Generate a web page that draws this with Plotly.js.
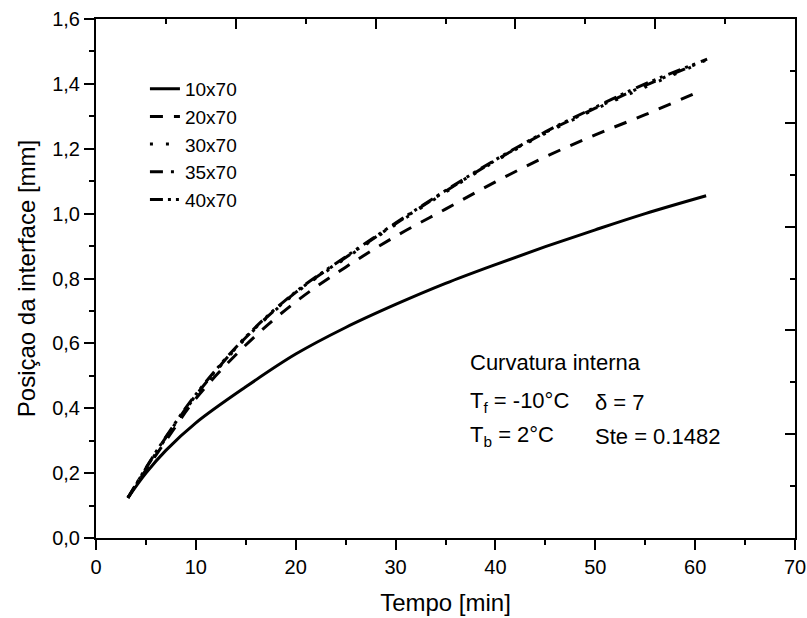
<!DOCTYPE html>
<html>
<head>
<meta charset="utf-8">
<script src="https://cdn.plot.ly/plotly-3.0.1.min.js"></script>
<style>html,body{margin:0;padding:0;background:#fff;}#chart{width:807px;height:618px;}</style>
</head>
<body>
<div id="chart"></div>
<script>
// Data
const seriesNames = ["10x70", "20x70", "30x70", "35x70", "40x70"];

const x10 = [3.2, 5, 7, 10, 15, 20, 25, 30, 35, 40, 45, 50, 55, 61.1];
const y10 = [0.124, 0.2, 0.27, 0.355, 0.466, 0.567, 0.649, 0.72, 0.785, 0.843, 0.898, 0.95, 1.0, 1.055];

const x20 = [3.2, 5, 7, 10, 15, 20, 25, 30, 35, 40, 45, 50, 55, 60.5];
const y20 = [0.124, 0.21, 0.3, 0.43, 0.595, 0.728, 0.835, 0.93, 1.014, 1.098, 1.175, 1.243, 1.305, 1.378];

const x30 = [3.2, 5, 7, 10, 15, 20, 25, 30, 35, 40, 45, 50, 55, 60.8];
const y30 = [0.124, 0.213, 0.308, 0.438, 0.616, 0.755, 0.862, 0.966, 1.066, 1.162, 1.247, 1.322, 1.39, 1.468];

const x35 = [3.2, 5, 7, 10, 15, 20, 25, 30, 35, 40, 45, 50, 55, 61.0];
const y35 = [0.124, 0.215, 0.31, 0.44, 0.618, 0.757, 0.865, 0.969, 1.069, 1.164, 1.25, 1.325, 1.395, 1.472];

const x40 = [3.2, 5, 7, 10, 15, 20, 25, 30, 35, 40, 45, 50, 55, 61.2];
const y40 = [0.124, 0.216, 0.312, 0.443, 0.62, 0.759, 0.867, 0.971, 1.071, 1.166, 1.252, 1.328, 1.4, 1.476];

const xTickVals = [0, 10, 20, 30, 40, 50, 60, 70];
const yTickVals = [0, 0.2, 0.4, 0.6, 0.8, 1.0, 1.2, 1.4, 1.6];

const FONT = "Liberation Sans, Arial, sans-serif";
const lineW = 3;

const dashes = ["solid", "13px,11px", "3px,13px", "13px,8px,3px,8px", "13px,5px,3px,5px,3px,6px"];
const xs = [x10, x20, x30, x35, x40];
const ys = [y10, y20, y30, y35, y40];

const traces = seriesNames.map((n, i) => ({
  type: "scatter", mode: "lines", name: n,
  x: xs[i], y: ys[i],
  line: {color: "#000", width: lineW, dash: dashes[i], shape: "spline", smoothing: 1.0}
}));
// frame axes (top / right) carrier
traces.push({type: "scatter", mode: "lines", x: [], y: [], xaxis: "x2", yaxis: "y2", showlegend: false, hoverinfo: "skip"});

const axBase = {showline: true, linecolor: "#000", linewidth: 2, ticks: "outside", tickcolor: "#000",
  tickwidth: 2, ticklen: 10, showgrid: false, zeroline: false,
  tickfont: {family: FONT, size: 20, color: "#000"}};

const layout = {
  width: 807, height: 618,
  margin: {l: 96, r: 12, t: 19, b: 80},
  paper_bgcolor: "#fff", plot_bgcolor: "#fff",
  separators: ", ",
  font: {family: FONT, color: "#000"},
  showlegend: true,
  legend: {x: 0.07, y: 0.902, xanchor: "left", yanchor: "top", bgcolor: "rgba(0,0,0,0)",
    font: {family: FONT, size: 19, color: "#000"}, tracegroupgap: 0, itemwidth: 30},
  xaxis: Object.assign({}, axBase, {
    range: [0, 70], tickvals: xTickVals, ticktext: xTickVals.map(String),
    minor: {dtick: 5, tick0: 0, ticks: "outside", ticklen: 5, tickwidth: 2, tickcolor: "#000"},
    title: {text: "Tempo [min]", font: {family: FONT, size: 24, color: "#000"}, standoff: 17}
  }),
  yaxis: Object.assign({}, axBase, {
    range: [0, 1.6], tickvals: yTickVals, tickformat: ".1f",
    minor: {dtick: 0.1, tick0: 0, ticks: "outside", ticklen: 5, tickwidth: 2, tickcolor: "#000"},
    title: {text: "Posiçao da interface [mm]", font: {family: FONT, size: 24, color: "#000"}, standoff: 10}
  }),
  xaxis2: {overlaying: "x", side: "top", anchor: "y2", range: [0, 70], tick0: 0, dtick: 14,
    showline: true, linecolor: "#000", linewidth: 2, ticks: "inside", ticklen: 10, tickwidth: 2, tickcolor: "#000",
    minor: {dtick: 7, tick0: 0, ticks: "inside", ticklen: 5, tickwidth: 2, tickcolor: "#000"},
    showticklabels: false, showgrid: false, zeroline: false},
  yaxis2: {overlaying: "y", side: "right", anchor: "x2", range: [0, 1.6], tick0: 0, dtick: 0.32,
    showline: true, linecolor: "#000", linewidth: 2, ticks: "inside", ticklen: 10, tickwidth: 2, tickcolor: "#000",
    minor: {dtick: 0.16, tick0: 0, ticks: "inside", ticklen: 5, tickwidth: 2, tickcolor: "#000"},
    showticklabels: false, showgrid: false, zeroline: false},
  annotations: [
    {x: 37.3, y: 0.54, xref: "x", yref: "y", xanchor: "left", yanchor: "middle", showarrow: false,
     text: "Curvatura interna", font: {family: FONT, size: 22, color: "#000"}},
    {x: 37.3, y: 0.418, xref: "x", yref: "y", xanchor: "left", yanchor: "middle", showarrow: false,
     text: "T<sub>f</sub> = -10°C", font: {family: FONT, size: 22, color: "#000"}},
    {x: 49.8, y: 0.418, xref: "x", yref: "y", xanchor: "left", yanchor: "middle", showarrow: false,
     text: "δ = 7", font: {family: FONT, size: 22, color: "#000"}},
    {x: 37.3, y: 0.313, xref: "x", yref: "y", xanchor: "left", yanchor: "middle", showarrow: false,
     text: "T<sub>b</sub> = 2°C", font: {family: FONT, size: 22, color: "#000"}},
    {x: 49.8, y: 0.313, xref: "x", yref: "y", xanchor: "left", yanchor: "middle", showarrow: false,
     text: "Ste = 0.1482", font: {family: FONT, size: 22, color: "#000"}}
  ]
};

Plotly.newPlot("chart", traces, layout, {displayModeBar: false, staticPlot: true});
</script>
</body>
</html>
